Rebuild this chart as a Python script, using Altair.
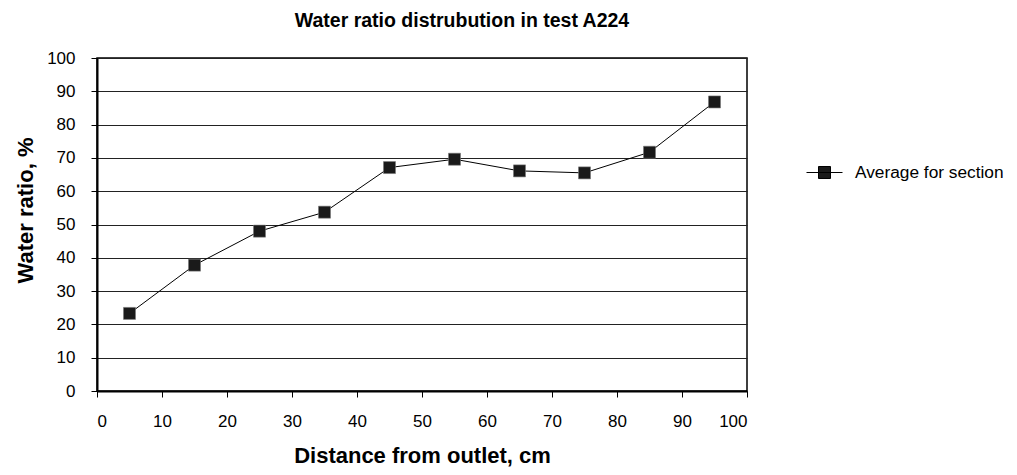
import altair as alt
import pandas as pd

distance = [5, 15, 25, 35, 45, 55, 65, 75, 85, 95]
water_ratio = [23.3, 37.8, 48.0, 53.7, 67.1, 69.6, 66.1, 65.5, 71.7, 86.8]
series = ["Average for section"] * len(distance)
ticks = list(range(0, 101, 10))

df = pd.DataFrame({"distance": distance, "ratio": water_ratio, "series": series})

FONT = "Liberation Sans"

x = alt.X(
    "distance:Q",
    scale=alt.Scale(domain=[0, 100], nice=False),
    axis=alt.Axis(
        values=ticks, title="Distance from outlet, cm", grid=False,
        labelFontSize=17, labelPadding=16, tickSize=6,
        titleFontSize=22, titleFontWeight="bold", titleY=64, titleBaseline="middle",
    ),
)
y = alt.Y(
    "ratio:Q",
    scale=alt.Scale(domain=[0, 100], nice=False),
    axis=alt.Axis(
        values=ticks, title="Water ratio, %", grid=True,
        labelFontSize=17, labelPadding=16, tickSize=6,
        titleFontSize=22, titleFontWeight="bold",
        titleX=-72, titleY=152, titleAngle=-90, titleBaseline="middle", titleAlign="center",
    ),
)

line = alt.Chart(df).mark_line(color="black", strokeWidth=1).encode(x=x, y=y)

points = alt.Chart(df).mark_point(
    shape="square", filled=True, size=144, stroke="#777777", strokeWidth=0.6, opacity=1
).encode(
    x=x, y=y,
    color=alt.Color(
        "series:N",
        scale=alt.Scale(range=["#1a1a1a"]),
        legend=alt.Legend(
            title=None, orient="none", legendX=709, legendY=96,
            symbolType="M-1,0H1M-0.333,-0.333H0.333V0.333H-0.333Z",
            symbolSize=1296, symbolStrokeColor="black", symbolStrokeWidth=1,
            symbolFillColor="#1a1a1a",
            labelFontSize=17.3, labelOffset=12, labelFont=FONT, labelColor="black",
        ),
    ),
)

chart = (
    alt.layer(line, points)
    .properties(
        width=650, height=333,
        title=alt.TitleParams(
            "Water ratio distrubution in test A224",
            fontSize=19.5, fontWeight="bold", font=FONT, color="black",
            anchor="middle", frame="group", dx=40, offset=18,
        ),
        autosize=alt.AutoSizeParams(type="none"),
        padding={"left": 89, "top": 50, "right": 262, "bottom": 76},
    )
    .configure(font=FONT)
    .configure_view(stroke="black", strokeWidth=1.5)
    .configure_axis(
        labelFont=FONT, titleFont=FONT, labelColor="black", titleColor="black",
        domainColor="black", domainWidth=2, tickColor="black", tickWidth=1,
        gridColor="#222222", gridWidth=1, gridOpacity=1,
    )
)

chart.save("out.html", embed_options={"renderer": "svg", "actions": False})
